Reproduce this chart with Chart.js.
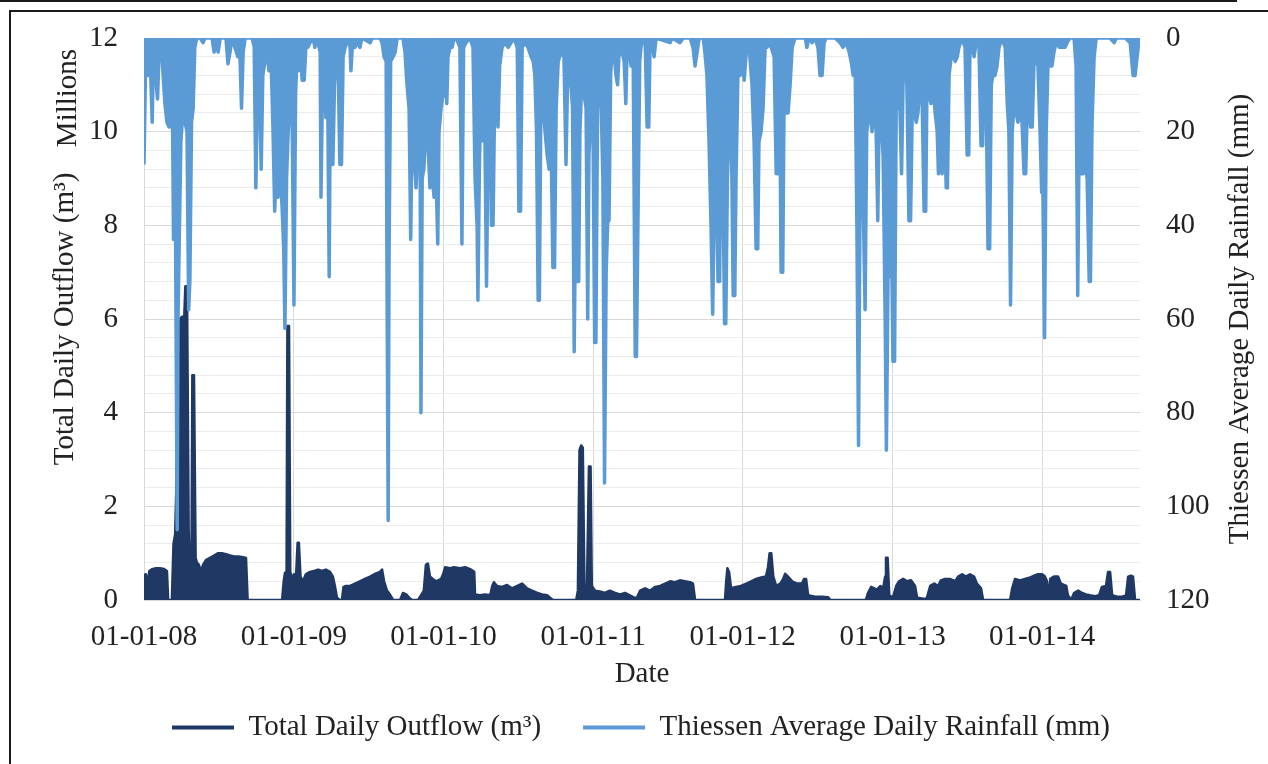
<!DOCTYPE html>
<html>
<head>
<meta charset="utf-8">
<title>Total Daily Outflow and Thiessen Average Daily Rainfall</title>
<script src="https://cdn.jsdelivr.net/npm/chart.js@4"></script>
<style>
  body { margin: 0; background: #fff; }
  #wrap { position: relative; width: 1268px; height: 764px; overflow: hidden; }
  #chart { display: block; }
  .rule { position: absolute; background: #1a1a1a; }
</style>
</head>
<body>
<div id="wrap">
  <canvas id="chart" width="1268" height="764"></canvas>
  <div class="rule" style="left:0;top:0;width:1237px;height:2px"></div>
  <div class="rule" style="left:9px;top:10px;width:1259px;height:2px"></div>
  <div class="rule" style="left:9px;top:10px;width:2px;height:754px"></div>
</div>
<script>
// x values are days counted from 01-01-2008
const yearStartDays = [0, 366, 731, 1096, 1461, 1827, 2192];
const yearLabels = ['01-01-08', '01-01-09', '01-01-10', '01-01-11', '01-01-12', '01-01-13', '01-01-14'];
const lastDay = 2431;

// total daily outflow, millions of m3
const flowDays = [
  0, 5, 10, 13, 20, 29, 39, 49, 56, 59, 68, 72, 76, 79, 83, 88, 93, 98, 101, 105,
  109, 112, 116, 118, 122, 126, 129, 134, 139, 144, 151, 161, 171, 181, 190, 200, 210, 220, 229, 239, 249, 253,
  337, 341, 344, 348, 350, 354, 357, 361, 366, 371, 375, 378, 382, 388, 395, 405, 415, 425, 435, 444,
  454, 461, 466, 471, 478, 483, 487, 493, 503, 515, 527, 539, 552, 562, 576, 581, 586, 593, 600, 608,
  625, 632, 640, 647, 654, 669, 676, 683, 688, 693, 698, 705, 713, 725, 730, 735, 747, 757, 771, 784,
  796, 806, 808, 820, 832, 845, 850, 854, 862, 874, 886, 898, 911, 923, 935, 947, 960, 972, 984, 991, 998,
  1055, 1059, 1063, 1067, 1071, 1075, 1081, 1086, 1090, 1093, 1101, 1113, 1125, 1137, 1150, 1162, 1174, 1186, 1196, 1203,
  1211, 1223, 1235, 1247, 1260, 1272, 1284, 1296, 1308, 1320, 1333, 1340, 1345,
  1418, 1421, 1424, 1428, 1433, 1445, 1457, 1470, 1482, 1494, 1506, 1518, 1523, 1527, 1531, 1536, 1543, 1553, 1560, 1565,
  1572, 1582, 1594, 1606, 1611, 1616, 1621, 1638, 1655, 1670, 1675,
  1762, 1767, 1775, 1782, 1789, 1797, 1804, 1809, 1811, 1815, 1819, 1828, 1836, 1843, 1853, 1862, 1872, 1882, 1887, 1906,
  1911, 1919, 1929, 1938, 1945, 1955, 1967, 1980, 1987, 1997, 2006, 2016, 2026, 2033, 2043, 2048,
  2114, 2119, 2126, 2138, 2150, 2163, 2172, 2182, 2192, 2199, 2204, 2208, 2212, 2221, 2231, 2238, 2251, 2255, 2263, 2270,
  2280, 2290, 2299, 2309, 2321, 2331, 2338, 2348, 2353, 2358, 2363, 2375, 2387, 2397, 2402, 2409, 2414, 2419, 2431
];
const flowMillions = [
  0.53, 0.55, 0.3, 0.62, 0.66, 0.68, 0.68, 0.66, 0.62, 0, 0, 1.2, 1.4, 2.4, 6.0, 6.0, 6.05, 6.0, 6.7, 6.7,
  1.5, 0.5, 1.0, 4.8, 4.8, 0.9, 0.8, 0.75, 0.6, 0.75, 0.85, 0.9, 0.95, 1.0, 1.0, 0.98, 0.95, 0.93, 0.93, 0.92, 0.9, 0,
  0, 0.4, 0.58, 0.6, 5.85, 5.85, 0.6, 0.45, 0.55, 0.5, 1.22, 1.22, 0.5, 0.4, 0.55, 0.6, 0.62, 0.65, 0.62, 0.65,
  0.6, 0.5, 0.3, 0.05, 0, 0, 0.28, 0.3, 0.3, 0.35, 0.4, 0.45, 0.5, 0.55, 0.6, 0.65, 0.4, 0.2, 0.12, 0,
  0, 0.15, 0.12, 0.05, 0, 0, 0.1, 0.2, 0.75, 0.78, 0.5, 0.45, 0.4, 0.45, 0.55, 0.7, 0.68, 0.7, 0.68, 0.7,
  0.66, 0.6, 0.12, 0.1, 0.12, 0.1, 0.3, 0.38, 0.3, 0.28, 0.32, 0.25, 0.3, 0.35, 0.25, 0.2, 0.15, 0.12, 0.1, 0.05, 0,
  0, 0.2, 3.2, 3.3, 3.25, 0.3, 0.2, 2.85, 2.85, 0.3, 0.2, 0.18, 0.15, 0.2, 0.15, 0.12, 0.15, 0.1, 0.05, 0.05,
  0.2, 0.25, 0.2, 0.28, 0.3, 0.35, 0.4, 0.38, 0.42, 0.4, 0.38, 0.35, 0,
  0, 0.4, 0.68, 0.6, 0.25, 0.28, 0.3, 0.35, 0.4, 0.45, 0.48, 0.5, 0.7, 1.0, 1.0, 0.5, 0.3, 0.35, 0.45, 0.56,
  0.5, 0.4, 0.35, 0.35, 0.45, 0.45, 0.1, 0.07, 0.07, 0.06, 0,
  0, 0.15, 0.28, 0.25, 0.22, 0.3, 0.25, 0.5, 0.9, 0.9, 0.1, 0.05, 0.3, 0.4, 0.45, 0.4, 0.42, 0.3, 0.05, 0.02,
  0.05, 0.3, 0.35, 0.3, 0.42, 0.45, 0.45, 0.4, 0.5, 0.55, 0.5, 0.55, 0.5, 0.35, 0.25, 0,
  0, 0.25, 0.45, 0.42, 0.45, 0.48, 0.52, 0.55, 0.55, 0.5, 0.4, 0, 0.45, 0.5, 0.5, 0.35, 0.3, 0.1, 0, 0.15,
  0.2, 0.15, 0.12, 0.1, 0.08, 0.1, 0.28, 0.3, 0.6, 0.6, 0.1, 0.07, 0.07, 0.1, 0.5, 0.52, 0.5, 0, 0
];

// Thiessen average daily rainfall, mm
const rainDays = [
  0, 4, 10, 15, 20, 23, 29, 33, 37, 44, 51, 56, 61, 66, 70, 72,
  76, 78, 81, 83, 87, 90, 95, 100, 105, 109, 112, 116, 120, 124, 129,
  137, 144, 149, 166, 171, 176, 181, 186, 200, 205, 210, 215, 222, 229, 234, 238, 242, 247, 264,
  269, 273, 277, 281, 286, 290, 295, 300, 305, 310, 315, 319, 322, 327, 332, 337, 341, 344, 348, 352,
  356, 361, 366, 370, 373, 377, 381, 386, 391, 395, 400, 405, 413, 417, 422, 430, 432, 436, 439, 444,
  448, 452, 455, 461, 465, 469, 474, 478, 482, 486, 491, 498, 503, 505, 509, 515, 520, 527, 532, 552, 557, 576,
  581, 586, 591, 593, 596, 598, 602, 608, 613, 618, 632, 637, 642, 647, 651, 654, 659, 664, 669, 674,
  676, 679, 683, 688, 693, 698, 703, 708, 713, 717, 720, 725, 730, 735, 739, 742, 747, 752, 757, 762,
  771, 776, 780, 786, 796, 803,
  808, 813, 815, 819, 823, 828, 832, 836, 840, 845, 848, 852, 856, 859, 864, 868, 874, 881, 889, 896,
  903, 911, 915, 919, 923, 930, 937, 945, 950, 954, 958, 962, 965, 969, 974, 979, 984, 989, 993, 998,
  1002, 1006, 1011, 1018, 1025, 1030, 1034, 1037, 1042, 1046, 1050, 1053, 1057, 1061, 1064, 1069, 1074, 1079, 1083, 1086,
  1091, 1096, 1100, 1103, 1107, 1111, 1116, 1120, 1124, 1128, 1132, 1135, 1139, 1142, 1147, 1152, 1156, 1159, 1164, 1172,
  1176, 1179, 1184, 1189, 1194, 1199, 1202, 1206, 1210, 1213, 1218, 1223, 1228, 1232, 1235, 1240, 1245, 1250,
  1284, 1289, 1308, 1316, 1333, 1340, 1345, 1350, 1355, 1365,
  1369, 1374, 1379, 1384, 1388, 1391, 1396, 1401, 1405, 1408, 1413, 1417, 1420, 1424, 1428, 1433, 1438, 1442, 1445, 1450,
  1455, 1460, 1465, 1470, 1477, 1484, 1489, 1494, 1498, 1501, 1506, 1511, 1516, 1521, 1526, 1531, 1538, 1543, 1548, 1552,
  1555, 1559, 1562, 1567, 1572, 1577, 1582, 1589,
  1614, 1618, 1623, 1631, 1638, 1645, 1650, 1655, 1660, 1665, 1687, 1699, 1706, 1714, 1721, 1726, 1731, 1736,
  1740, 1744, 1748, 1753, 1756, 1760, 1764, 1767, 1772, 1777, 1782, 1787, 1791, 1794, 1799, 1804, 1809, 1812, 1816, 1820,
  1823, 1828, 1832, 1836, 1841, 1845, 1849, 1853, 1858, 1862, 1867, 1871, 1875, 1880, 1885, 1889, 1894, 1899, 1904, 1908,
  1911, 1916, 1921, 1926, 1931, 1936, 1939, 1943, 1948, 1953, 1958, 1961, 1965, 1970, 1975, 1980, 1985, 1989, 1997, 2004,
  2009, 2013, 2016, 2021, 2026, 2031, 2038, 2043, 2047, 2050, 2055, 2060, 2064, 2068, 2072, 2077, 2082, 2087, 2094,
  2102, 2107, 2111, 2115, 2119, 2124, 2129, 2133, 2138, 2143, 2148, 2152, 2155, 2160, 2164, 2168, 2172, 2177, 2182, 2187,
  2191, 2194, 2198, 2202, 2207, 2212, 2216, 2221, 2226, 2234, 2241, 2248, 2253, 2260, 2270, 2275, 2279, 2282, 2287, 2292,
  2297, 2302, 2307, 2310, 2314, 2319, 2324, 2358, 2368, 2373, 2395, 2407, 2414, 2419, 2424, 2429, 2431
];
const rainMm = [
  27, 5, 8, 4, 18, 4, 9, 13, 3, 4, 14, 18, 19, 17, 20, 43,
  22, 58, 105, 60, 38, 22, 16, 18, 20, 58, 52, 18, 15, 2, 0,
  0, 1, 0, 0, 3, 1, 3, 0, 0, 5.5, 3, 0, 2, 4, 3, 15, 3, 0, 0,
  2, 32, 10, 6, 28, 8, 5, 3, 7, 4, 20, 37, 30, 34, 28, 36, 45, 62, 30, 20,
  15, 12, 57, 12, 5, 7, 2, 9, 9, 2, 2, 1, 0, 2, 0, 3, 34, 8, 6, 17,
  8, 51, 8, 27, 10, 4, 6, 27, 27, 4, 2, 0, 2, 7, 1, 2, 1, 2, 0, 1, 0, 0,
  1, 4, 5, 48, 103, 48, 5, 4, 3, 0, 0, 3, 10, 15, 43, 20, 25, 32, 22, 24,
  80, 30, 28, 20, 22, 32, 29, 34, 30, 44, 20, 15, 12, 8, 14, 4, 2, 2, 0, 0,
  2, 44, 2, 1, 0, 2,
  30, 40, 56, 25, 15, 22, 20, 53, 20, 15, 40, 40, 12, 8, 19, 6, 2, 1, 2, 1,
  0, 2, 37, 37, 2, 1, 2, 4, 5, 8, 20, 56, 56, 10, 15, 20, 25, 28, 18, 49,
  49, 15, 5, 3, 4, 27, 8, 10, 10, 15, 67, 40, 52, 52, 20, 8, 12, 15, 60, 25,
  16, 20, 65, 65, 15, 12, 15, 30, 95, 50, 39, 39, 8, 3, 3, 8, 10, 4, 2, 5,
  14, 3, 3, 6, 4, 68, 68, 36, 5, 2, 0, 0, 19, 19, 2, 1, 4, 0,
  1, 0, 1, 0, 0, 2, 6, 3, 0, 0,
  3, 8, 22, 40, 59, 40, 25, 52, 52, 20, 30, 61, 61, 30, 20, 15, 55, 55, 30, 6,
  8, 5, 9, 3, 2, 10, 22, 45, 45, 22, 20, 15, 2, 2, 1, 2, 4, 29, 29, 15,
  50, 50, 16, 16, 16, 10, 2, 0,
  0, 2, 0, 1, 0, 2, 8, 8, 1, 0, 0, 1, 2, 1, 3, 5, 8, 8,
  40, 87, 30, 38, 38, 58, 20, 18, 15, 20, 14, 20, 39, 18, 18, 25, 60, 88, 51, 51,
  30, 69, 69, 14, 15, 15, 29, 8, 6, 10, 39, 39, 16, 16, 18, 16, 10, 12, 37, 37,
  10, 12, 14, 10, 16, 20, 29, 20, 29, 15, 32, 32, 8, 4, 4, 5, 4, 2, 0, 2,
  25, 25, 2, 2, 4, 1, 2, 23, 23, 8, 8, 45, 45, 10, 8, 8, 6, 2, 0,
  2, 14, 20, 57, 20, 14, 16, 18, 16, 18, 29, 29, 18, 12, 19, 19, 6, 4, 6, 20,
  33, 33, 64, 20, 4, 6, 6, 3, 1, 2, 2, 2, 1, 0, 0, 6, 55, 25, 29, 29,
  27, 30, 52, 52, 18, 4, 0, 0, 1, 0, 0, 1, 8, 8, 4, 0, 0
];

const navy = '#1f3864';
const sky = '#5b9bd5';
const textColor = '#222';
const isMajor = v => Math.abs(v - Math.round(v / 2) * 2) < 1e-6;

Chart.defaults.font.family = '"Liberation Serif", "Times New Roman", serif';
Chart.defaults.font.size = 29;
Chart.defaults.color = textColor;

// "Millions" unit label and the right title (reads bottom to top, like Excel)
const sideText = {
  id: 'sideText',
  afterDraw(chart) {
    const { ctx, chartArea } = chart;
    ctx.save();
    ctx.font = '29px "Liberation Serif"';
    ctx.fillStyle = textColor;
    ctx.textAlign = 'center';
    ctx.textBaseline = 'middle';
    ctx.translate(chartArea.left - 76, chartArea.top + 60);
    ctx.rotate(-Math.PI / 2);
    ctx.fillText('Millions', 0, 0);
    ctx.restore();

    ctx.save();
    ctx.font = '29px "Liberation Serif"';
    ctx.fillStyle = textColor;
    ctx.textAlign = 'center';
    ctx.textBaseline = 'middle';
    ctx.translate(chartArea.right + 100, (chartArea.top + chartArea.bottom) / 2);
    ctx.rotate(-Math.PI / 2);
    ctx.fillText('Thiessen Average Daily Rainfall (mm)', 0, 0);
    ctx.restore();
  }
};

// keep tick padding from pushing the plot area down
const fixSide = width => scale => {
  scale.width = width;
  scale.paddingTop = 0;
  scale.paddingBottom = 0;
};

const flowPoints = flowDays.map((d, i) => ({ x: d, y: flowMillions[i] }));
const rainPoints = rainDays.map((d, i) => ({ x: d, y: rainMm[i] }));

new Chart(document.getElementById('chart'), {
  type: 'line',
  data: {
    datasets: [
      {
        label: 'Total Daily Outflow (m³)',
        data: flowPoints,
        yAxisID: 'y',
        borderColor: navy,
        backgroundColor: navy,
        borderWidth: 2.5,
        borderJoinStyle: 'round',
        fill: 'origin',
        pointRadius: 0,
        order: 2
      },
      {
        label: 'Thiessen Average Daily Rainfall (mm)',
        data: rainPoints,
        yAxisID: 'y2',
        borderColor: sky,
        backgroundColor: sky,
        borderWidth: 3.5,
        borderJoinStyle: 'round',
        fill: 'origin',
        pointRadius: 0,
        order: 1
      }
    ]
  },
  options: {
    responsive: false,
    animation: false,
    events: [],
    layout: { padding: { left: 14, right: 0, top: 38, bottom: 12 } },
    plugins: {
      tooltip: { enabled: false },
      legend: {
        position: 'bottom',
        labels: {
          usePointStyle: true,
          pointStyle: 'line',
          pointStyleWidth: 62,
          padding: 42,
          color: textColor,
          sort: (a, b) => a.datasetIndex - b.datasetIndex,
          generateLabels: chart => Chart.defaults.plugins.legend.labels.generateLabels(chart)
            .map(item => ({ ...item, lineWidth: 4 }))
        }
      }
    },
    scales: {
      x: {
        type: 'linear',
        min: 0,
        max: lastDay,
        afterBuildTicks: scale => { scale.ticks = yearStartDays.map(v => ({ value: v })); },
        afterFit: scale => { scale.height = 71; },
        ticks: {
          autoSkip: false,
          maxRotation: 0,
          padding: 20,
          callback: (value, index) => yearLabels[index]
        },
        grid: { color: '#d9d9d9', drawTicks: false },
        border: { color: '#d9d9d9' },
        title: { display: true, text: 'Date', padding: { top: 0, bottom: -21 } }
      },
      y: {
        position: 'left',
        min: 0,
        max: 12,
        afterFit: fixSide(130),
        ticks: {
          stepSize: 0.4,
          autoSkip: false,
          padding: 26,
          callback: value => isMajor(value) ? String(Math.round(value)) : ''
        },
        grid: {
          drawTicks: false,
          color: c => isMajor(c.tick.value) ? '#d9d9d9' : '#ececec'
        },
        border: { color: '#d9d9d9' },
        title: { display: true, text: 'Total Daily Outflow (m³)', padding: { top: 34, bottom: 0 } }
      },
      y2: {
        position: 'right',
        min: 0,
        max: 120,
        reverse: true,
        afterFit: fixSide(128),
        ticks: { stepSize: 20, padding: 26 },
        grid: { drawOnChartArea: false, drawTicks: false },
        border: { display: false }
      }
    }
  },
  plugins: [sideText]
});
</script>
</body>
</html>
